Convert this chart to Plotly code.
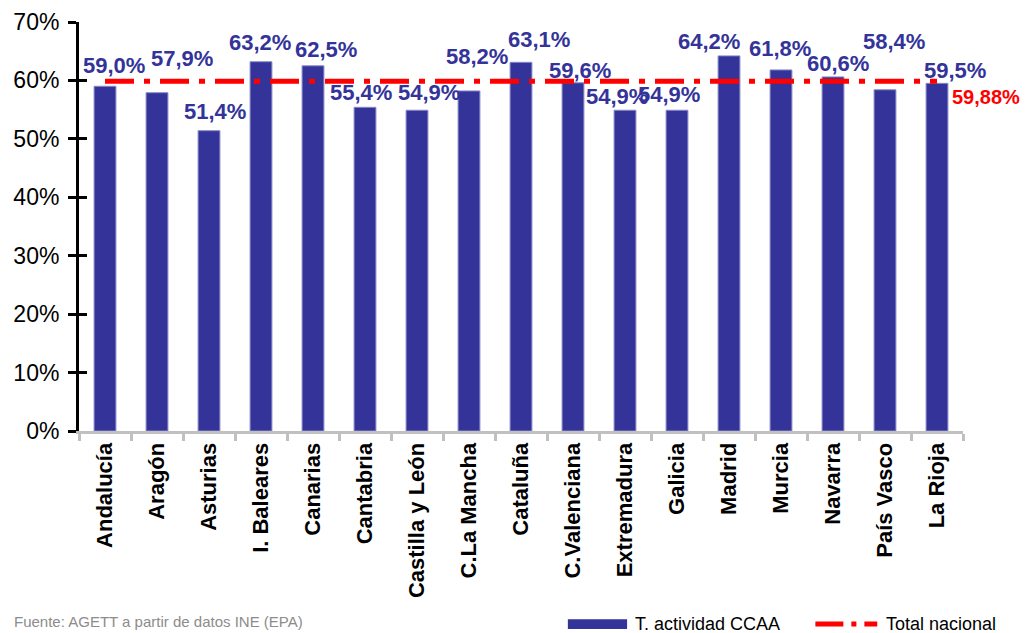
import plotly.graph_objects as go

categories = ["Andalucía", "Aragón", "Asturias", "I. Baleares", "Canarias", "Cantabria",
              "Castilla y León", "C.La Mancha", "Cataluña", "C.Valenciana", "Extremadura",
              "Galicia", "Madrid", "Murcia", "Navarra", "País Vasco", "La Rioja"]
rates = [59.0, 57.9, 51.4, 63.2, 62.5, 55.4, 54.9, 58.2, 63.1, 59.6, 54.9, 54.9,
         64.2, 61.8, 60.6, 58.4, 59.5]
total_nacional = 59.88
y_ticks = [0, 10, 20, 30, 40, 50, 60, 70]

# label nudges (pixels) as in the original hand-placed labels
label_dx = [9, 25, 6, -1, 13, -4, 12, 8, 18, 7, -8, -8, -20, -1, 5, 9, 18]
label_dy = [21, 34, 19, 19, 16, 15, 18, 34, 23, 12, 14, 16, 14, 21, 13, 48, 13]

BLUE = "#333399"
RED = "#ff0000"
FONT = "Liberation Sans, Arial, sans-serif"


def fmt(v, d=1):
    return f"{v:.{d}f}%".replace(".", ",")


fig = go.Figure()
fig.add_trace(go.Bar(
    x=categories, y=rates, name="T. actividad CCAA",
    marker=dict(color=BLUE, line=dict(color="#8a8ac8", width=1)),
    showlegend=False,
))
fig.add_trace(go.Scatter(
    x=[categories[0], categories[-1]], y=[total_nacional, total_nacional],
    mode="lines", name="Total nacional",
    line=dict(color=RED, width=5, dash="29px,10px,6px,10px"),
    showlegend=False,
))
# empty trace so the overlay axis (inner tick marks) is drawn
fig.add_trace(go.Scatter(x=[categories[0]], y=[None], yaxis="y2", mode="lines",
                         showlegend=False, hoverinfo="skip"))

annotations = []
for c, v, dx, dy in zip(categories, rates, label_dx, label_dy):
    annotations.append(dict(
        x=c, y=v, text=fmt(v), showarrow=False, xshift=dx, yshift=dy,
        xanchor="center", yanchor="middle",
        font=dict(family=FONT, size=22, color=BLUE, weight="bold"),
    ))
annotations.append(dict(
    x=categories[-1], y=total_nacional, text=fmt(total_nacional, 2), showarrow=False,
    xshift=13, yshift=-16, xanchor="left", yanchor="middle",
    font=dict(family=FONT, size=20, color=RED, weight="bold"),
))
# legend (drawn manually for wide swatches)
annotations.append(dict(
    xref="paper", yref="paper", x=0.627, y=-0.472, text="T. actividad CCAA",
    showarrow=False, xanchor="left", yanchor="middle",
    font=dict(family=FONT, size=18, color="#000000"),
))
annotations.append(dict(
    xref="paper", yref="paper", x=0.911, y=-0.472, text="Total nacional",
    showarrow=False, xanchor="left", yanchor="middle",
    font=dict(family=FONT, size=18, color="#000000"),
))
annotations.append(dict(
    xref="paper", yref="paper", x=-0.0758, y=-0.465,
    text="Fuente: AGETT a partir de datos INE (EPA)",
    showarrow=False, xanchor="left", yanchor="middle",
    font=dict(family=FONT, size=15, color="#8c8c8c"),
))

shapes = [
    dict(type="rect", xref="paper", yref="paper", x0=0.553, x1=0.620, y0=-0.484, y1=-0.460,
         fillcolor=BLUE, line=dict(width=0)),
    dict(type="line", xref="paper", yref="paper", x0=0.833, x1=0.903, y0=-0.472, y1=-0.472,
         line=dict(color=RED, width=5, dash="28px,8px,5px,8px")),
]

fig.update_layout(
    width=1021, height=625,
    margin=dict(l=71, r=66, t=14, b=202, autoexpand=False),
    paper_bgcolor="white", plot_bgcolor="white",
    bargap=0.58,
    separators=",.",
    font=dict(family=FONT, color="#000000"),
    xaxis=dict(
        type="category", categoryorder="array", categoryarray=categories,
        range=[-0.5, len(categories) - 0.5],
        tickangle=-90, tickson="boundaries", automargin=False,
        ticks="outside", ticklen=7, tickwidth=3, tickcolor="#c0c0c0",
        showline=True, linecolor="#c0c0c0", linewidth=3,
        showgrid=False, zeroline=False,
        tickfont=dict(family=FONT, size=22, color="#000000", weight="bold"),
    ),
    yaxis=dict(
        range=[0, 70], tickvals=y_ticks, ticktext=[f"{t}%" for t in y_ticks],
        ticks="outside", ticklen=8, tickwidth=3, tickcolor="#000000",
        showline=True, linecolor="#000000", linewidth=3, automargin=False,
        showgrid=False, zeroline=False,
        tickfont=dict(family=FONT, size=23, color="#000000"),
        ticklabelstandoff=4,
    ),
    yaxis2=dict(
        range=[0, 70], tickvals=y_ticks, overlaying="y", side="left", automargin=False,
        ticks="inside", ticklen=8, tickwidth=3, tickcolor="#000000",
        showticklabels=False, showline=False, showgrid=False, zeroline=False,
    ),
    annotations=annotations,
    shapes=shapes,
    showlegend=False,
)

fig.write_html("out.html")
